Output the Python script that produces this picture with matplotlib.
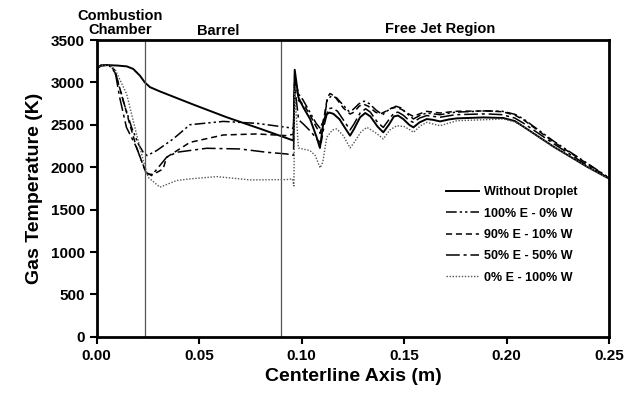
import matplotlib
matplotlib.use("Agg")
import matplotlib.pyplot as plt

plt.rcParams['font.family'] = ['Liberation Sans', 'DejaVu Sans']
plt.rcParams['font.weight'] = 'bold'

# Without droplet
x_wd = [0.000, 0.002, 0.005, 0.010, 0.0147, 0.0178, 0.0211, 0.0235, 0.026, 0.0308,
        0.0471, 0.0634, 0.0797, 0.0960, 0.0966, 0.0984, 0.1008, 0.1041, 0.1073, 0.1089,
        0.1106, 0.1118, 0.1135, 0.1155, 0.1185, 0.1215, 0.1236, 0.1255, 0.1285, 0.1310,
        0.1335, 0.1370, 0.1398, 0.1425, 0.1450, 0.1470, 0.1495, 0.1525, 0.1545, 0.1575,
        0.1610, 0.1640, 0.1675, 0.1720, 0.1757, 0.1887, 0.1984, 0.2040, 0.2082, 0.2228,
        0.2391, 0.2500]
t_wd = [3160, 3200, 3205, 3200, 3190, 3160, 3080, 3000, 2945, 2895,
        2740, 2590, 2455, 2315, 3150, 2824, 2706, 2569, 2353, 2228,
        2530, 2620, 2645, 2630, 2565, 2450, 2373, 2450, 2590, 2640,
        2600, 2480, 2412, 2500, 2600, 2610, 2570, 2500, 2471, 2530,
        2569, 2560, 2541, 2565, 2577, 2588, 2581, 2545, 2479, 2244,
        2008, 1865]

# 100% ethanol - 0% water
x_e100 = [0.000, 0.002, 0.006, 0.0089, 0.0129, 0.0170, 0.0203, 0.0227, 0.0246, 0.0292,
          0.0373, 0.0455, 0.0618, 0.0781, 0.0927, 0.0960, 0.0966, 0.0985, 0.1005, 0.1040,
          0.1070, 0.1090, 0.1110, 0.1125, 0.1145, 0.1170, 0.1200, 0.1230, 0.1250, 0.1280,
          0.1305, 0.1330, 0.1365, 0.1395, 0.1420, 0.1460, 0.1485, 0.1515, 0.1545, 0.1575,
          0.1610, 0.1675, 0.1750, 0.1900, 0.1980, 0.2040, 0.2082, 0.2228, 0.2391, 0.2500]
t_e100 = [3160, 3200, 3205, 3140, 2785, 2471, 2275, 2177, 2138, 2196,
          2334, 2502, 2541, 2518, 2471, 2459, 3050, 2863, 2800, 2650,
          2520, 2460, 2569, 2800, 2840, 2820, 2740, 2660, 2680, 2750,
          2780, 2750, 2670, 2620, 2670, 2720, 2700, 2630, 2570, 2610,
          2640, 2620, 2650, 2665, 2660, 2625, 2570, 2310, 2050, 1875]

# 90% ethanol - 10% water
x_e90 = [0.000, 0.002, 0.006, 0.0089, 0.0121, 0.0161, 0.0194, 0.0218, 0.0234, 0.0246,
         0.0275, 0.0324, 0.0341, 0.0455, 0.0618, 0.0781, 0.0927, 0.0960, 0.0966, 0.0985,
         0.1010, 0.1040, 0.1070, 0.1090, 0.1110, 0.1125, 0.1138, 0.1160, 0.1203, 0.1236,
         0.1255, 0.1280, 0.1300, 0.1325, 0.1360, 0.1383, 0.1410, 0.1440, 0.1464, 0.1490,
         0.1513, 0.1545, 0.1575, 0.1610, 0.1675, 0.1750, 0.1900, 0.1980, 0.2040, 0.2082,
         0.2228, 0.2391, 0.2500]
t_e90 = [3160, 3200, 3205, 3118, 2864, 2510, 2235, 2079, 1981, 1922,
         1914, 1981, 2118, 2294, 2381, 2393, 2373, 2390, 3100, 2785,
         2740, 2620, 2480, 2400, 2600, 2820, 2870, 2840, 2700, 2628,
         2650, 2720, 2746, 2720, 2650, 2628, 2660, 2700, 2706, 2680,
         2640, 2600, 2630, 2660, 2640, 2660, 2665, 2655, 2615, 2560,
         2300, 2045, 1870]

# 50% ethanol - 50% water
x_e50 = [0.000, 0.002, 0.006, 0.0089, 0.0112, 0.0145, 0.0194, 0.0224, 0.0240, 0.0268,
         0.0341, 0.0390, 0.0536, 0.0699, 0.0829, 0.0927, 0.0960, 0.0966, 0.0985, 0.1008,
         0.1045, 0.1080, 0.1095, 0.1110, 0.1130, 0.1150, 0.1175, 0.1203, 0.1236, 0.1255,
         0.1285, 0.1312, 0.1335, 0.1370, 0.1398, 0.1425, 0.1450, 0.1470, 0.1495, 0.1525,
         0.1545, 0.1575, 0.1610, 0.1675, 0.1750, 0.1900, 0.1980, 0.2040, 0.2082, 0.2228,
         0.2391, 0.2500]
t_e50 = [3160, 3200, 3205, 3140, 2824, 2471, 2235, 2040, 1941, 1902,
         2118, 2177, 2224, 2216, 2177, 2157, 2140, 2950, 2560, 2510,
         2420, 2314, 2290, 2500, 2690, 2700, 2660, 2560, 2440, 2510,
         2640, 2690, 2650, 2530, 2470, 2560, 2640, 2650, 2615, 2550,
         2530, 2580, 2610, 2590, 2620, 2630, 2620, 2580, 2520, 2280,
         2025, 1868]

# 0% ethanol - 100% water
x_e0 = [0.000, 0.002, 0.006, 0.0089, 0.0146, 0.0194, 0.0227, 0.0251, 0.0308, 0.0389,
        0.0455, 0.0585, 0.0748, 0.0927, 0.0955, 0.0962, 0.0966, 0.0984, 0.1041, 0.1066,
        0.1090, 0.1103, 0.1122, 0.1150, 0.1171, 0.1203, 0.1236, 0.1255, 0.1290, 0.1318,
        0.1358, 0.1398, 0.1430, 0.1464, 0.1500, 0.1529, 0.1545, 0.1580, 0.1610, 0.1675,
        0.1757, 0.1984, 0.2040, 0.2082, 0.2228, 0.2391, 0.2500]
t_e0 = [3160, 3200, 3205, 3158, 2864, 2393, 2079, 1882, 1765, 1843,
        1863, 1890, 1851, 1855, 1863, 1780, 2900, 2228, 2196, 2138,
        1993, 2059, 2353, 2440, 2452, 2373, 2228, 2290, 2420, 2471,
        2412, 2334, 2440, 2490, 2480, 2440, 2412, 2490, 2530, 2490,
        2549, 2569, 2535, 2479, 2244, 2008, 1865]

labels = ["Without Droplet", "100% E - 0% W", "90% E - 10% W", "50% E - 50% W", "0% E - 100% W"]
region_x = [0.0234, 0.0899]

fig = plt.figure(figsize=(6.28, 4.01), dpi=100)
ax = fig.add_axes([0.154, 0.160, 0.816, 0.740])

ax.plot(x_wd, t_wd, color='black', lw=1.4, label=labels[0])
ax.plot(x_e100, t_e100, color='black', lw=1.1, dashes=(7, 2, 1.5, 2, 1.5, 2), label=labels[1])
ax.plot(x_e90, t_e90, color='black', lw=1.1, dashes=(4, 2.5), label=labels[2])
ax.plot(x_e50, t_e50, color='black', lw=1.1, dashes=(9, 2.5, 2, 2.5), label=labels[3])
ax.plot(x_e0, t_e0, color='#555555', lw=1.0, dashes=(1, 1.2), label=labels[4])

for xv in region_x:
    ax.axvline(xv, color='#555555', lw=0.9)

ax.set_xlim(0, 0.25)
ax.set_ylim(0, 3500)
ax.set_xticks([0.00, 0.05, 0.10, 0.15, 0.20, 0.25])
ax.set_xticklabels(["0.00", "0.05", "0.10", "0.15", "0.20", "0.25"])
ax.set_yticks(range(0, 3501, 500))
ax.tick_params(direction='out', length=5, width=1.5, labelsize=11)
for sp in ax.spines.values():
    sp.set_linewidth(2)

ax.set_xlabel("Centerline Axis (m)", fontsize=14, fontweight='bold', labelpad=4)
ax.set_ylabel("Gas Temperature (K)", fontsize=14, fontweight='bold', labelpad=6)

fig.text(120 / 628, 1 - 23 / 401, "Combustion\nChamber", ha='center', va='center',
         fontsize=10.5, fontweight='bold', linespacing=0.95)
fig.text(218 / 628, 1 - 31 / 401, "Barrel", ha='center', va='center', fontsize=10.5, fontweight='bold')
fig.text(440 / 628, 1 - 29 / 401, "Free Jet Region", ha='center', va='center', fontsize=10.5, fontweight='bold')

ax.legend(loc='upper left', bbox_to_anchor=(0.66, 0.545), frameon=False, fontsize=9,
          handlelength=2.6, labelspacing=0.75, handletextpad=0.4)

fig.savefig("out.png", dpi=100)
